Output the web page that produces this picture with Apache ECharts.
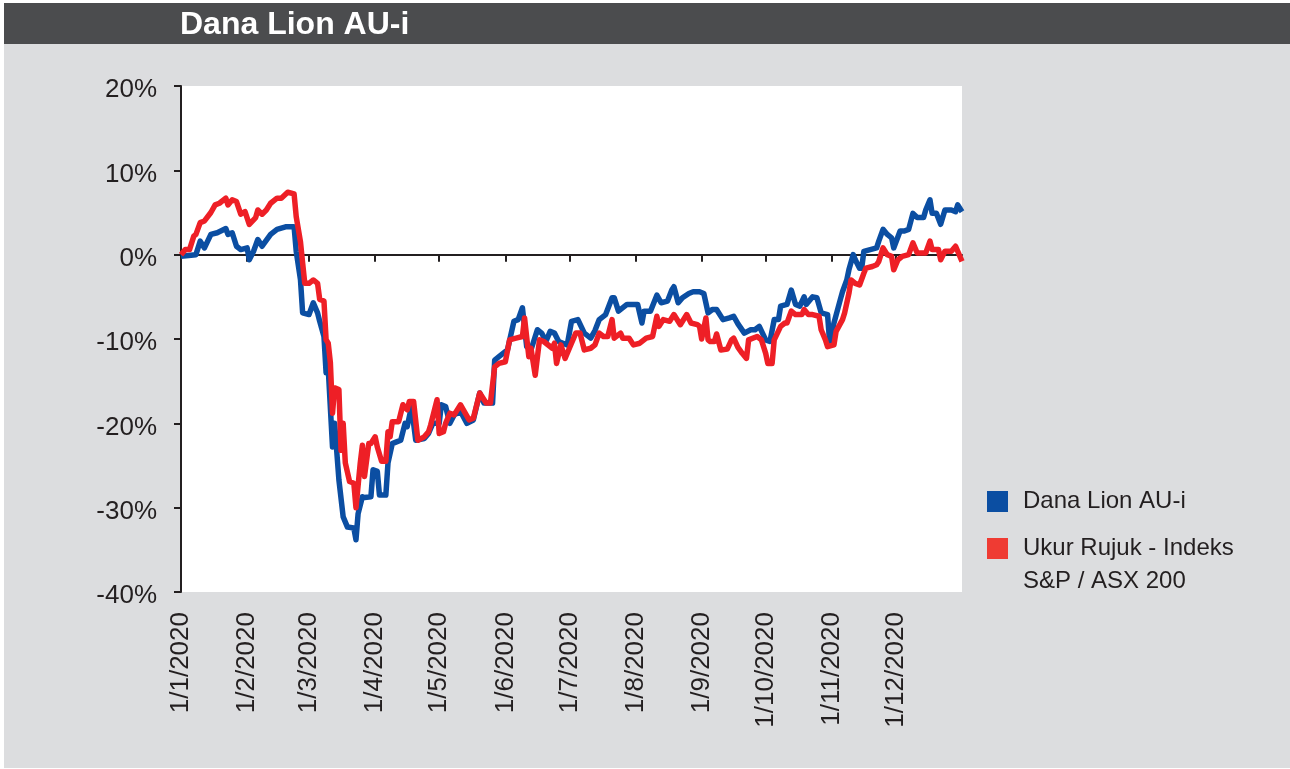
<!DOCTYPE html>
<html><head><meta charset="utf-8">
<script src="https://cdn.jsdelivr.net/npm/echarts@6/dist/echarts.min.js"></script>
<style>html,body{margin:0;padding:0;background:#fff}#c{width:1290px;height:769px}</style>
</head><body><div id="c"></div><script>
// ---- data (x = day of year 2020, 0 = 1 Jan; y = cumulative return %) ----
const fundName = 'Dana Lion AU-i';
const benchName = 'Ukur Rujuk - Indeks S&P / ASX 200';
const monthStarts = [0,31,60,91,121,152,182,213,244,274,305,335];
const monthLabels = ['1/1/2020','1/2/2020','1/3/2020','1/4/2020','1/5/2020','1/6/2020','1/7/2020','1/8/2020','1/9/2020','1/10/2020','1/11/2020','1/12/2020'];

const fundDays = [0,7,9,11,14,17,21,22,24,26,28,31,32,34,36,38,42,45,49,53,54,56,57,60,62,64,65,67,68,69,71,72,74,76,78,81,82,83,85,86,89,90,92,93,96,97,99,101,103,105,106,108,110,114,116,118,121,122,124,126,128,131,134,137,140,142,146,147,149,153,156,158,160,162,164,167,169,171,173,175,177,179,181,183,186,189,192,194,196,199,202,203,205,209,214,216,217,220,223,225,228,230,231,233,235,238,240,243,245,247,249,251,254,257,259,261,264,267,269,271,274,276,278,280,281,284,286,288,290,292,293,296,298,300,303,304,306,309,310,312,313,315,316,318,319,320,323,326,327,329,331,333,334,337,339,341,343,345,348,349,351,352,354,356,358,361,363,364,366];
const fund = [-0.2,0,1.6,0.8,2.4,2.6,3.1,2.4,2.6,1.0,0.6,0.8,-0.6,0.4,1.8,1.0,2.4,3.0,3.3,3.3,0.4,-3.0,-6.9,-7.1,-5.7,-6.9,-7.9,-9.7,-14.0,-13.5,-22.8,-20.0,-26.7,-31.1,-32.3,-32.4,-33.8,-30.7,-28.7,-28.8,-28.7,-25.5,-25.7,-28.5,-28.5,-24.7,-22.4,-22.2,-22.0,-20.0,-20.4,-18.0,-22.0,-21.8,-21.2,-20.0,-20.0,-17.8,-18.0,-20.0,-19.0,-18.6,-20.0,-19.6,-16.4,-17.6,-17.6,-12.5,-12.1,-11.3,-7.9,-7.7,-6.3,-10.9,-11.3,-8.9,-9.3,-10.3,-9.1,-9.3,-10.3,-10.5,-10.7,-7.9,-7.7,-9.3,-9.9,-9.0,-7.7,-7.1,-5.1,-5.1,-6.7,-5.9,-5.9,-8.1,-6.7,-6.7,-4.8,-5.7,-5.5,-4.2,-3.8,-5.7,-5.1,-4.6,-4.4,-4.4,-4.6,-6.9,-6.5,-6.5,-7.7,-7.5,-7.3,-8.2,-9.3,-8.9,-8.9,-8.5,-10.1,-10.3,-7.7,-7.7,-6.1,-5.9,-4.2,-5.9,-6.1,-5.0,-5.9,-5.0,-5.1,-6.9,-7.1,-10.5,-8.1,-5.3,-4.4,-3.0,-1.8,0,-0.6,-1.6,-1.6,0.4,0.6,0.8,1.6,3.0,2.4,2.0,0.8,2.8,2.8,3.0,4.9,4.4,4.4,5.3,6.5,4.9,4.9,3.6,5.3,5.3,5.1,5.9,5.1];

const benchDays = [0,2,4,6,7,9,11,14,16,18,21,22,24,26,28,30,32,35,36,38,40,42,45,47,50,53,54,56,57,58,60,62,64,65,67,68,69,70,71,72,74,75,76,77,79,81,82,84,85,86,88,89,91,92,94,96,97,98,99,102,104,106,107,109,111,114,116,117,120,121,123,124,126,128,131,135,137,140,143,145,147,149,152,154,157,160,161,163,164,166,168,170,174,175,176,178,180,182,185,187,189,192,194,196,198,200,202,203,206,207,210,212,215,218,221,223,224,226,229,231,234,237,239,242,243,244,246,247,248,250,251,253,256,258,259,261,263,265,266,270,272,274,275,277,278,281,283,284,286,288,291,292,294,296,299,300,302,303,306,307,310,311,313,314,316,318,320,321,324,326,327,329,331,333,334,336,338,341,343,345,347,349,351,352,355,356,358,361,363,364,366];
const bench = [0,0.6,0.6,2.2,2.4,3.8,4.0,5.0,5.9,6.1,6.7,5.9,6.5,6.3,4.8,5.1,3.6,4.4,5.3,4.8,5.3,6.1,6.7,6.7,7.4,7.2,4.5,1.5,-1.0,-3.4,-3.4,-3.0,-3.4,-5.3,-5.5,-10.1,-10.5,-12.8,-18.8,-15.8,-16.0,-23.2,-20.0,-24.7,-26.9,-27.1,-30.0,-24.7,-22.6,-26.3,-22.4,-22.4,-21.6,-22.8,-24.5,-24.5,-21.0,-21.6,-19.8,-19.8,-17.8,-18.4,-17.4,-17.4,-22.0,-21.6,-21.0,-20.2,-17.2,-21.2,-21.0,-20.0,-18.8,-19.0,-17.8,-19.6,-19.4,-16.4,-17.6,-17.6,-13.3,-12.9,-12.7,-10.1,-9.9,-9.7,-7.5,-12.1,-11.1,-14.3,-10.1,-10.3,-11.1,-10.5,-12.9,-10.7,-12.3,-11.1,-9.3,-9.3,-11.3,-11.1,-10.7,-9.3,-9.7,-9.7,-7.7,-9.9,-9.3,-9.9,-9.9,-10.7,-10.5,-9.9,-9.7,-7.3,-8.5,-7.7,-7.9,-7.1,-8.3,-7.1,-8.1,-8.3,-8.5,-10.0,-7.5,-10.1,-10.3,-10.3,-9.4,-11.3,-11.2,-10.1,-9.9,-11.0,-11.7,-12.3,-10.1,-9.7,-10.1,-11.7,-12.9,-12.9,-10.1,-8.5,-8.1,-8.1,-6.7,-7.1,-7.1,-6.5,-7.1,-7.1,-7.3,-8.9,-10.1,-10.9,-10.7,-9.1,-7.7,-6.9,-4.6,-3.0,-3.4,-3.6,-2.2,-1.6,-1.4,-1.2,-0.8,0.8,0,-0.2,-1.8,-0.6,-0.2,0,1.4,0.2,0.2,0.2,1.6,0.6,0.6,-0.6,0.4,0.4,1.0,0.4,-0.8];

// ---- chart ----
const FONT = '"Liberation Sans", Arial, Helvetica, sans-serif';
const INK = '#231f20';
const BLUE = '#0b4ea2';
const RED = '#ee1f26';
const chart = echarts.init(document.getElementById('c'));
chart.setOption({
  backgroundColor: '#ffffff',
  animation: false,
  graphic: [
    {type: 'rect', z: -10, shape: {x: 4, y: 3, width: 1286, height: 765}, style: {fill: '#dcdddf'}},
    {type: 'rect', z: -9, shape: {x: 4, y: 3, width: 1286, height: 41}, style: {fill: '#4b4c4e'}}
  ],
  title: {
    text: 'Dana Lion AU-i', left: 180, top: 9, padding: 0,
    textStyle: {color: '#ffffff', fontSize: 32, fontWeight: 'bold', fontFamily: FONT}
  },
  grid: {left: 181, right: 328, top: 86, bottom: 177, show: true, backgroundColor: '#ffffff', borderWidth: 0},
  xAxis: [
    {
      type: 'value', min: 0, max: 366, position: 'bottom',
      axisLine: {show: false, onZero: false}, axisTick: {show: false}, splitLine: {show: false},
      axisLabel: {
        customValues: monthStarts, rotate: 90, margin: 20, fontSize: 26, color: INK, fontFamily: FONT,
        formatter: v => { const i = monthStarts.indexOf(v); return i >= 0 ? monthLabels[i] : ''; }
      }
    },
    {
      type: 'value', min: 0, max: 366, position: 'bottom',
      axisLine: {show: true, onZero: true, lineStyle: {color: INK, width: 2}},
      axisTick: {show: true, customValues: monthStarts, length: 7, lineStyle: {color: INK, width: 2}},
      axisLabel: {show: false}, splitLine: {show: false}
    }
  ],
  yAxis: {
    type: 'value', min: -40, max: 20, interval: 10,
    axisLine: {show: true, onZero: false, lineStyle: {color: INK, width: 2}},
    axisTick: {show: true, length: 7, lineStyle: {color: INK, width: 2}},
    splitLine: {show: false},
    axisLabel: {formatter: '{value}%', margin: 24, fontSize: 26, color: INK, fontFamily: FONT,
                verticalAlign: 'top', lineHeight: 8}
  },
  legend: [
    {
      data: [{name: fundName, itemStyle: {color: BLUE}}],
      orient: 'vertical', left: 987, top: 485, padding: 0, itemWidth: 21, itemHeight: 21, icon: 'rect',
      selectedMode: false,
      textStyle: {fontSize: 24, lineHeight: 33, color: INK, fontFamily: FONT, padding: [0, 0, 0, 10]}
    },
    {
      data: [{name: benchName, itemStyle: {color: '#ef3b33'}}],
      orient: 'vertical', left: 987, top: 499, padding: 0, itemWidth: 21, itemHeight: 21, icon: 'rect',
      selectedMode: false,
      formatter: () => ' \nUkur Rujuk - Indeks\nS&P / ASX 200',
      textStyle: {fontSize: 24, lineHeight: 33, color: INK, fontFamily: FONT, padding: [0, 0, 0, 10]}
    }
  ],
  series: [
    {
      name: fundName, type: 'line', xAxisIndex: 0,
      data: fundDays.map((d, i) => [d, fund[i]]),
      showSymbol: false, symbol: 'none',
      lineStyle: {color: BLUE, width: 5.5, join: 'round'}, itemStyle: {color: BLUE}
    },
    {
      name: benchName, type: 'line', xAxisIndex: 0,
      data: benchDays.map((d, i) => [d, bench[i]]),
      showSymbol: false, symbol: 'none',
      lineStyle: {color: RED, width: 5.5, join: 'round'}, itemStyle: {color: RED}
    }
  ]
});
</script></body></html>
